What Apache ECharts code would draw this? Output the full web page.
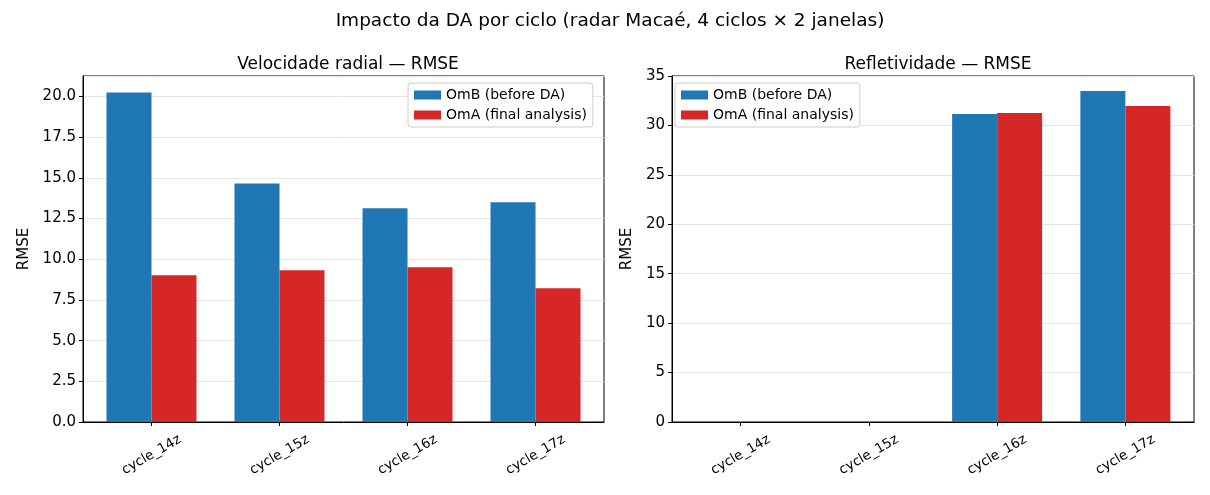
<!DOCTYPE html>
<html>
<head>
    <meta charset="utf-8">
    <title>Impacto da DA por ciclo</title>
    <style>
        *{ margin: 0; padding: 0; }
        body{ background: #fff; }
        #main{ width: 1210px; height: 495px; }
    </style>
    <script src="https://cdn.jsdelivr.net/npm/echarts@6/dist/echarts.min.js"></script>
</head>
<body>
    <div id="main"></div>
    <script type="text/javascript">
        // dados
        const cycles = ['cycle_14z', 'cycle_15z', 'cycle_16z', 'cycle_17z'];
        const vrOmB = [20.25, 14.66, 13.13, 13.50];
        const vrOmA = [9.02, 9.33, 9.51, 8.22];
        const dbzOmB = [0, 0, 31.15, 33.48];
        const dbzOmA = [0, 0, 31.25, 31.96];

        const FONT = 'DejaVu Sans';
        const BLUE = '#1f77b4';
        const RED = '#d62728';
        const tickPos = cycles.map((c, i) => i);

        const chart = echarts.init(document.getElementById('main'));

        function yAxis(idx, max, interval, fmt, gap, showMax) {
            return {
                type: 'value', gridIndex: idx, min: 0, max: max, interval: interval,
                name: 'RMSE', nameLocation: 'middle', nameGap: gap, nameRotate: 90,
                nameTextStyle: { fontFamily: FONT, fontSize: 15, color: '#000' },
                axisLine: { show: true, onZero: false, lineStyle: { color: '#000', width: 1 } },
                axisTick: { show: true, length: 4, lineStyle: { color: '#000' } },
                axisLabel: {
                    fontFamily: FONT, fontSize: 15, color: '#000', margin: 7,
                    showMaxLabel: showMax, formatter: fmt
                },
                splitLine: { show: true, lineStyle: { color: '#e5e5e5', width: 1 } }
            };
        }

        // eixo x numérico para reproduzir as margens do matplotlib
        function xAxis(idx) {
            return {
                type: 'value', gridIndex: idx, min: -0.535, max: 3.535,
                axisLine: { show: true, onZero: false, lineStyle: { color: '#000', width: 1 } },
                axisTick: { show: true, length: 4, customValues: tickPos, lineStyle: { color: '#000' } },
                axisLabel: {
                    customValues: tickPos,
                    formatter: v => cycles[Math.round(v)],
                    fontFamily: FONT, fontSize: 13.5, color: '#000', rotate: 30,
                    align: 'center', verticalAlign: 'middle', margin: 33
                },
                splitLine: { show: false }
            };
        }

        function legend(left) {
            return {
                left: left, top: 83, orient: 'vertical',
                data: ['OmB (before DA)', 'OmA (final analysis)'],
                itemWidth: 27, itemHeight: 9, itemGap: 6,
                padding: [5, 6, 5, 6],
                backgroundColor: '#fff', borderColor: '#cccccc', borderWidth: 1, borderRadius: 3,
                textStyle: { fontFamily: FONT, fontSize: 14, color: '#000' },
                icon: 'rect'
            };
        }

        function bar(name, values, idx, color) {
            return {
                name: name, type: 'bar',
                data: values.map((v, i) => [i, v]),
                xAxisIndex: idx, yAxisIndex: idx,
                barWidth: 45, barGap: '0%',
                itemStyle: { color: color }
            };
        }

        const option = {
            animation: false,
            title: [
                { text: 'Impacto da DA por ciclo (radar Macaé, 4 ciclos × 2 janelas)', left: 605, top: 7, textAlign: 'center',
                  textStyle: { fontFamily: FONT, fontSize: 18.5, fontWeight: 'normal', color: '#000' } },
                { text: 'Velocidade radial — RMSE', left: 343, top: 51, textAlign: 'center',
                  textStyle: { fontFamily: FONT, fontSize: 17, fontWeight: 'normal', color: '#000' } },
                { text: 'Refletividade — RMSE', left: 933, top: 51, textAlign: 'center',
                  textStyle: { fontFamily: FONT, fontSize: 17, fontWeight: 'normal', color: '#000' } }
            ],
            legend: [legend(408), legend(675)],
            grid: [
                { left: 83, top: 76, width: 521, height: 346, show: true, borderColor: '#000', borderWidth: 1, containLabel: false },
                { left: 672, top: 76, width: 522, height: 346, show: true, borderColor: '#000', borderWidth: 1, containLabel: false }
            ],
            xAxis: [xAxis(0), xAxis(1)],
            yAxis: [
                yAxis(0, 21.26, 2.5, v => v.toFixed(1), 51, false),
                yAxis(1, 35, 5, v => String(v), 37, true)
            ],
            series: [
                bar('OmB (before DA)', vrOmB, 0, BLUE),
                bar('OmA (final analysis)', vrOmA, 0, RED),
                bar('OmB (before DA)', dbzOmB, 1, BLUE),
                bar('OmA (final analysis)', dbzOmA, 1, RED)
            ]
        };
        chart.setOption(option);
    </script>
</body>
</html>
